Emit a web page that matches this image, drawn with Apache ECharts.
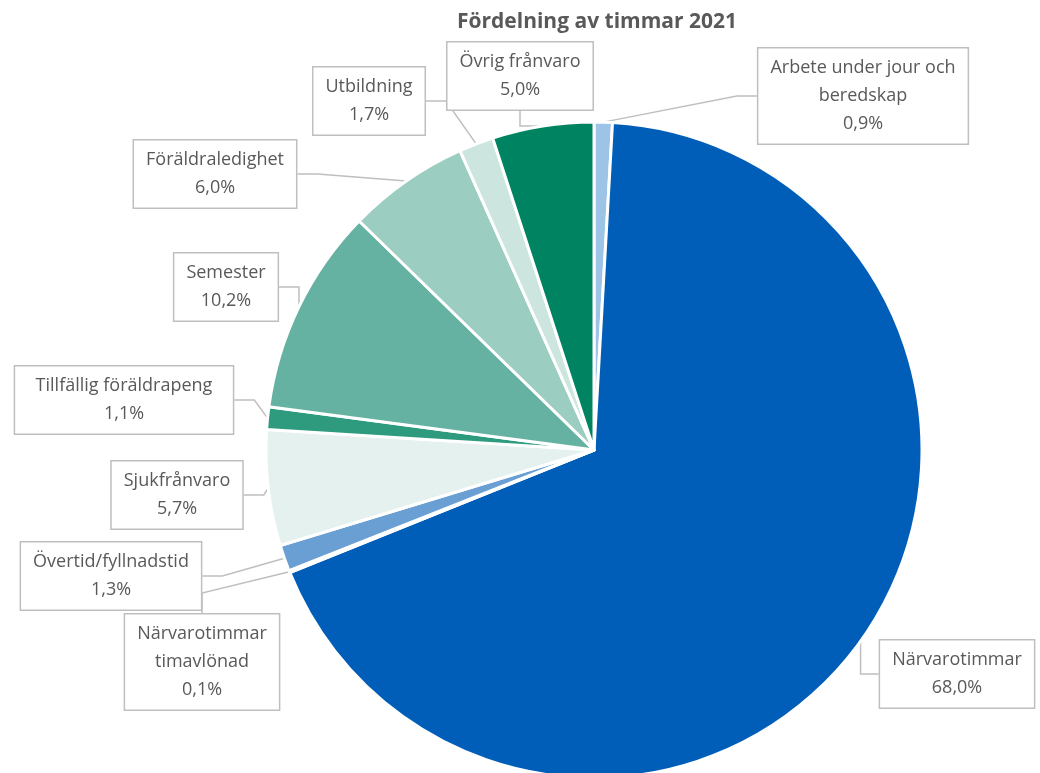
<!DOCTYPE html>
<html>
<head>
<meta charset="utf-8">
<script src="https://cdn.jsdelivr.net/npm/echarts@6/dist/echarts.min.js"></script>
<style>
    html, body { margin: 0; padding: 0; background: #fff; }
    #chart { width: 1040px; height: 773px; }
</style>
</head>
<body>
<div id="chart"></div>
<script>
// data
var categories = [
    'Arbete under jour och beredskap',
    'Närvarotimmar',
    'Närvarotimmar timavlönad',
    'Övertid/fyllnadstid',
    'Sjukfrånvaro',
    'Tillfällig föräldrapeng',
    'Semester',
    'Föräldraledighet',
    'Utbildning',
    'Övrig frånvaro'
];
var labelNames = [
    'Arbete under jour och\nberedskap',
    'Närvarotimmar',
    'Närvarotimmar\ntimavlönad',
    'Övertid/fyllnadstid',
    'Sjukfrånvaro',
    'Tillfällig föräldrapeng',
    'Semester',
    'Föräldraledighet',
    'Utbildning',
    'Övrig frånvaro'
];
var percents = [0.9, 68.0, 0.1, 1.3, 5.7, 1.1, 10.2, 6.0, 1.7, 5.0];
var colors = ['#9dc3e6', '#005eb8', '#2e75b6', '#6a9fd4', '#e4f1ee', '#2e9b7f', '#66b2a2', '#9bcdc0', '#cce6df', '#008361'];

// label box centres (layout only)
var labelPos = [
    [863, 96], [957, 674], [202, 662], [111, 576], [177, 495],
    [124, 400], [226, 287], [215, 174], [369, 101], [520, 76]
];

var PieViewModel = function () {
    var self = this;
    self.init = function () {
        self.drawPie();
    };
    self.drawPie = function () {
        var myChart = echarts.init(document.getElementById('chart'));
        var data = [];
        for (var i = 0; i < categories.length; i++) {
            data.push({ name: categories[i], value: percents[i], itemStyle: { color: colors[i] } });
        }
        var option = {
            animation: false,
            title: {
                text: 'Fördelning av timmar 2021',
                left: 592,
                top: 7,
                textAlign: 'center',
                textStyle: {
                    color: '#595959',
                    fontFamily: 'Open Sans',
                    fontSize: 21,
                    fontWeight: 'bold'
                }
            },
            series: [
                {
                    type: 'pie',
                    left: 0,
                    top: 0,
                    right: -400, // extra room so the right label is not squeezed
                    bottom: 0,
                    center: [594, 450],
                    radius: 328,
                    startAngle: 90,
                    clockwise: true,
                    data: data,
                    itemStyle: {
                        borderColor: '#fff',
                        borderWidth: 3
                    },
                    label: {
                        show: true,
                        formatter: function (p) {
                            return labelNames[p.dataIndex] + '\n' + p.value.toFixed(1).replace('.', ',') + '%';
                        },
                        color: '#595959',
                        fontFamily: 'Open Sans',
                        fontSize: 18,
                        lineHeight: 28,
                        align: 'center',
                        overflow: 'none',
                        backgroundColor: '#fff',
                        borderColor: '#bfbfbf',
                        borderWidth: 1.5,
                        padding: [6, 12, 5, 12]
                    },
                    labelLine: {
                        show: true,
                        length: 20,
                        length2: 20,
                        lineStyle: { color: '#bfbfbf', width: 1.5 }
                    },
                    labelLayout: function (params) {
                        var pos = labelPos[params.dataIndex];
                        return {
                            x: pos[0],
                            y: pos[1],
                            align: 'center',
                            verticalAlign: 'middle',
                            hideOverlap: false
                        };
                    }
                }
            ]
        };
        myChart.setOption(option);
    };
};

var index = new PieViewModel();
index.init();
</script>
</body>
</html>
